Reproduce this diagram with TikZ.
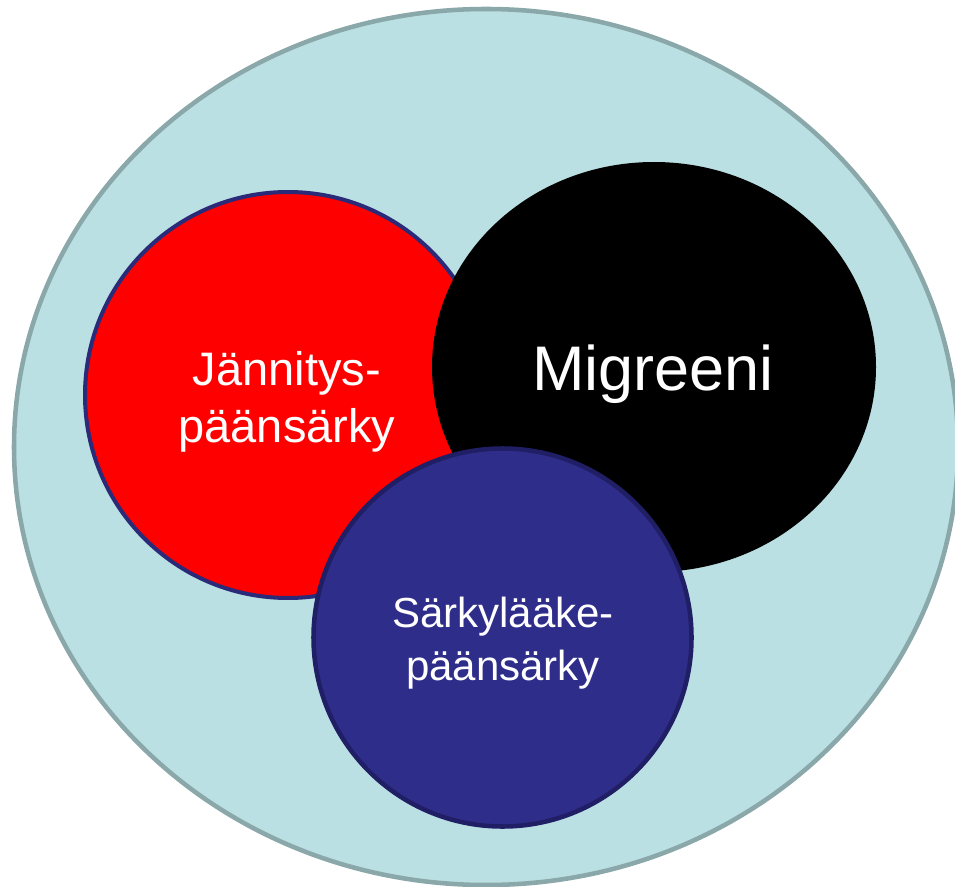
\documentclass[tikz,border=0pt]{standalone}
\usepackage{fontspec}
\setmainfont{Liberation Sans}
\definecolor{outerfill}{HTML}{BAE0E3}
\definecolor{outerline}{HTML}{8AA7A9}
\definecolor{redfill}{HTML}{FF0000}
\definecolor{navyline}{HTML}{2A2A78}
\definecolor{bluefill}{HTML}{2E2E8A}
\definecolor{blueline}{HTML}{201E64}
\begin{document}
\begin{tikzpicture}[x=0.75pt,y=-0.75pt,
  lbl/.style={text=white,anchor=base,inner sep=0pt},
  smalltxt/.style={lbl,font=\fontsize{35.25}{42}\selectfont},
  bigtxt/.style={lbl,font=\fontsize{47.25}{56}\selectfont},
  bluetxt/.style={lbl,font=\fontsize{31.5}{40}\selectfont}]
\useasboundingbox (0,0) rectangle (955,887);
% outer region
\draw[fill=outerfill,draw=outerline,line width=3.4pt] (486,447) ellipse [x radius=472, y radius=438];
% tension-type headache
\draw[fill=redfill,draw=navyline,line width=3pt] (288,395) circle [radius=203];
% migraine
\fill[black] (654,367) ellipse [x radius=222, y radius=205];
% medication overuse headache
\draw[fill=bluefill,draw=blueline,line width=3.4pt] (502.5,637.5) circle [radius=189];
% labels
\node[smalltxt] (j1) at (287,385) {Jännitys-};
\node[smalltxt] (j2) at (287,442) {päänsärky};
\node[bigtxt] (m) at (653,390) {Migreeni};
\node[bluetxt] (s1) at (503,627) {Särkylääke-};
\node[bluetxt] (s2) at (503,680) {päänsärky};
\end{tikzpicture}
\end{document}
